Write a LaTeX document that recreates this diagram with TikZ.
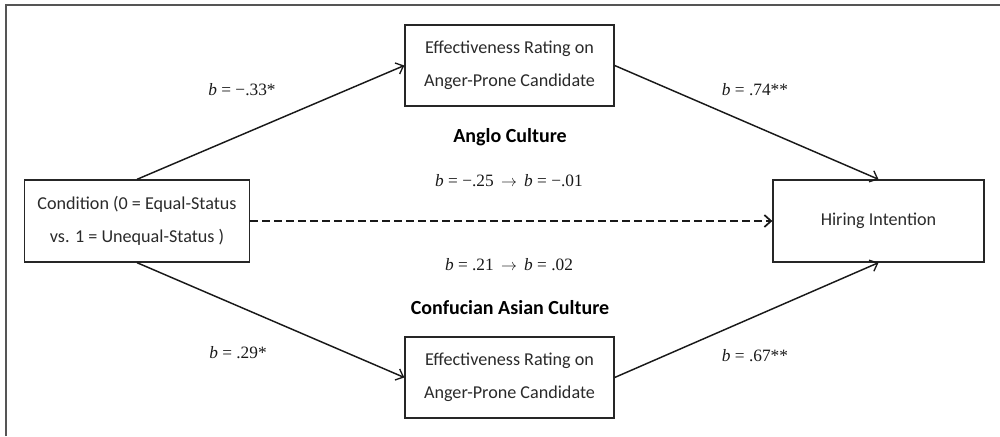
\documentclass[tikz,border=0pt]{standalone}
\usepackage{fontspec}
\setmainfont{Carlito}
\newfontfamily\serifb{Liberation Serif}
\usetikzlibrary{arrows.meta}
\definecolor{txt}{HTML}{2A2A2A}
\definecolor{frame}{HTML}{555555}
\tikzset{
  box/.style={draw=black!85, line width=1pt, inner sep=0pt, align=center, text=txt,
    font=\fontsize{13.6}{24.75}\selectfont},
  path/.style={line width=1.1pt, black!90, -{Straight Barb[length=5pt,width=9pt,line width=1pt]}},
  dpath/.style={line width=1.6pt, black!90, dash pattern=on 5.5pt off 3.5pt,
    -{Straight Barb[length=5pt,width=9pt,line width=1.3pt]}},
  coef/.style={font=\serifb\fontsize{13}{15}\selectfont, text=black!90, inner sep=0pt},
  head/.style={font=\bfseries\fontsize{15}{18}\selectfont, text=black, inner sep=0pt}
}
\begin{document}
\begin{tikzpicture}[x=0.75pt,y=-0.75pt]
\useasboundingbox (0,0) rectangle (1000,436);
\draw[frame, line width=1.6pt] (6,436) -- (6,5) -- (1000,5);
\node[box, minimum width=168.75pt, minimum height=61.5pt] (cond) at (137,221)
  {Condition (0 = Equal-Status\\vs. 1 = Unequal-Status )};
\node[box, minimum width=156.75pt, minimum height=60.75pt] (top) at (509.5,65.5)
  {Effectiveness Rating on\\Anger-Prone Candidate};
\node[box, minimum width=156.75pt, minimum height=60.75pt] (bot) at (509.5,377.5)
  {Effectiveness Rating on\\Anger-Prone Candidate};
\node[box, minimum width=158.25pt, minimum height=61.5pt] (hire) at (878.5,221)
  {Hiring Intention};
\draw[path] (cond.north) -- (top.west);
\draw[path] (top.east) -- (hire.north);
\draw[path] (cond.south) -- (bot.west);
\draw[path] (bot.east) -- (hire.south);
\draw[dpath] (cond.east) -- (hire.west);
\node[coef] (c1) at (242,90) {\textit{b} = −.33*};
\node[coef] (c2) at (755,90) {\textit{b} = .74**};
\node[coef] (c3) at (238,353) {\textit{b} = .29*};
\node[coef] (c4) at (755,356) {\textit{b} = .67**};
\node[coef] (c5) at (509,181) {\textit{b} = −.25 \,$\rightarrow$\, \textit{b} = −.01};
\node[coef] (c6) at (509,265) {\textit{b} = .21 \,$\rightarrow$\, \textit{b} = .02};
\node[head] (h1) at (510,137) {Anglo Culture};
\node[head] (h2) at (510,308) {Confucian Asian Culture};
\end{tikzpicture}
\end{document}
